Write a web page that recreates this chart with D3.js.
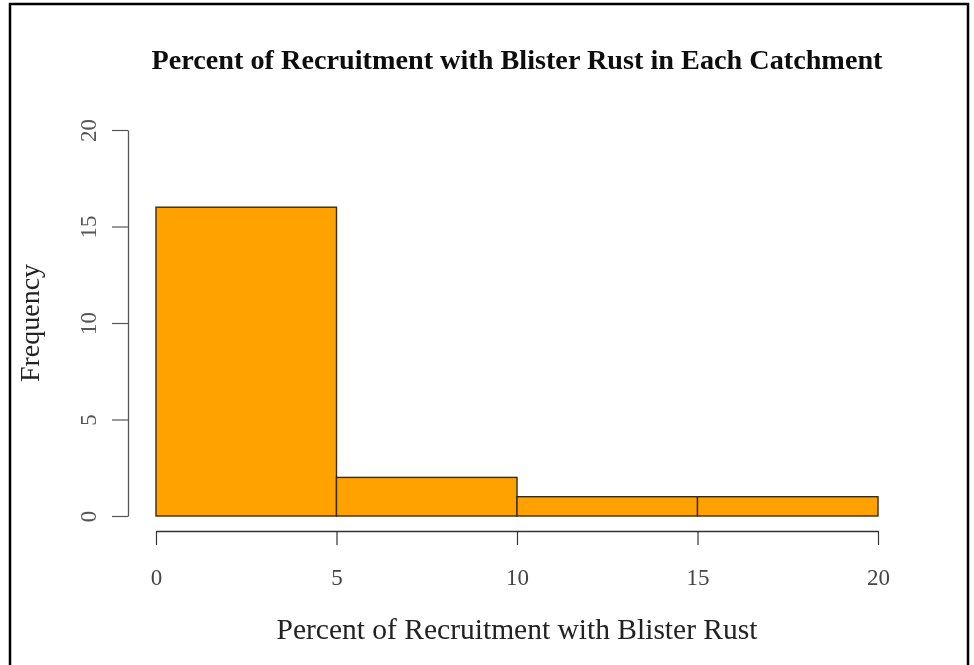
<!DOCTYPE html>
<html>
<head>
<meta charset="utf-8">
<script src="https://cdn.jsdelivr.net/npm/d3@7"></script>
<style>
  html, body { margin: 0; padding: 0; background: #fff; }
  svg { display: block; }
  text { font-family: "Liberation Serif", "DejaVu Serif", serif; }
</style>
</head>
<body>
<svg id="chart" width="974" height="665"></svg>
<script>
// Histogram of recruitment percent with blister rust, per catchment
const binEdges = [0, 5, 10, 15, 20];
const binCounts = [16, 2, 1, 1];
const xTicks = [0, 5, 10, 15, 20];
const yTicks = [0, 5, 10, 15, 20];
const titleText = "Percent of Recruitment with Blister Rust in Each Catchment";
const xLabel = "Percent of Recruitment with Blister Rust";
const yLabel = "Frequency";

const bins = binCounts.map((c, i) => ({ x0: binEdges[i], x1: binEdges[i + 1], count: c }));

const svg = d3.select("#chart");

const defs = svg.append("defs");
defs.append("filter").attr("id", "soft")
  .append("feGaussianBlur").attr("stdDeviation", 0.55);

const root = svg.append("g").attr("filter", "url(#soft)");

// outer frame
root.append("rect")
  .attr("x", 10).attr("y", 4)
  .attr("width", 958).attr("height", 700)
  .attr("fill", "none").attr("stroke", "#000").attr("stroke-width", 2.5);

const x = d3.scaleLinear().domain([0, 20]).range([156, 878]);
const y = d3.scaleLinear().domain([0, 20]).range([516, 130]);

// bars
root.append("g").selectAll("rect")
  .data(bins).join("rect")
  .attr("x", d => x(d.x0))
  .attr("y", d => y(d.count))
  .attr("width", d => x(d.x1) - x(d.x0))
  .attr("height", d => y(0) - y(d.count))
  .attr("fill", "#FFA200")
  .attr("stroke", "#3a2a10")
  .attr("stroke-width", 1.4);

// x axis (offset below the bars)
const xAxis = root.append("g")
  .attr("transform", "translate(0,531)")
  .call(d3.axisBottom(x).tickValues(xTicks).tickSize(14).tickSizeOuter(0).tickPadding(24));
xAxis.select(".domain").attr("stroke", "#333").attr("stroke-width", 1.3);
xAxis.selectAll(".tick line").attr("stroke", "#333").attr("stroke-width", 1.2);
xAxis.selectAll(".tick text")
  .attr("font-family", "Liberation Serif, serif")
  .attr("font-size", 23).attr("fill", "#444");

// y axis (offset left of the bars)
const yAxis = root.append("g")
  .attr("transform", "translate(128,0)")
  .call(d3.axisLeft(y).tickValues(yTicks).tickSize(16).tickSizeOuter(0).tickPadding(0));
yAxis.select(".domain").attr("stroke", "#555").attr("stroke-width", 1.3);
yAxis.selectAll(".tick line").attr("stroke", "#555").attr("stroke-width", 1.2);
yAxis.selectAll(".tick text")
  .attr("font-family", "Liberation Serif, serif")
  .attr("font-size", 23).attr("fill", "#555")
  .attr("text-anchor", "middle")
  .attr("dy", 0)
  .attr("x", 0)
  .attr("transform", "translate(-40,0) rotate(-90)")
  .attr("dominant-baseline", "central");

// title
root.append("text")
  .attr("x", 517).attr("y", 69)
  .attr("text-anchor", "middle")
  .attr("font-size", 27).attr("font-weight", "bold")
  .attr("fill", "#111")
  .attr("textLength", 731).attr("lengthAdjust", "spacingAndGlyphs")
  .text(titleText);

// x label
root.append("text")
  .attr("x", 517).attr("y", 639)
  .attr("text-anchor", "middle")
  .attr("font-size", 29.5).attr("fill", "#222")
  .text(xLabel);

// y label
root.append("text")
  .attr("transform", "translate(39,323) rotate(-90)")
  .attr("text-anchor", "middle")
  .attr("font-size", 28).attr("fill", "#222")
  .text(yLabel);
</script>
</body>
</html>
